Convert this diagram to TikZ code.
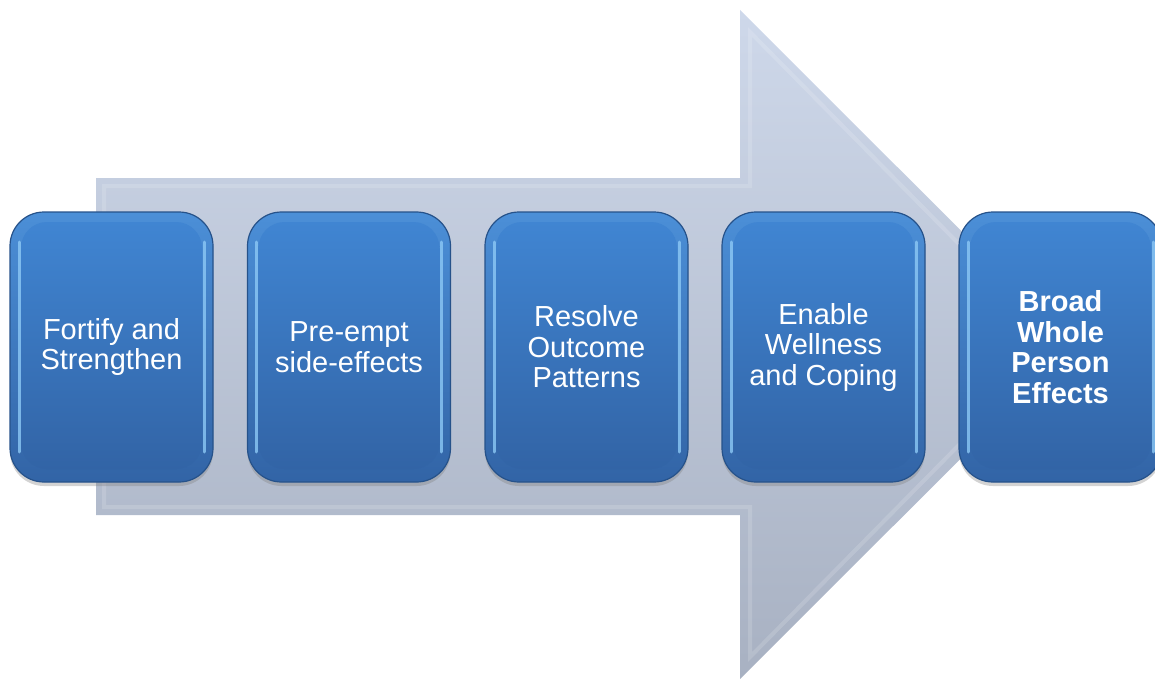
\documentclass[tikz,border=0pt]{standalone}
\usepackage{fontspec}
\setmainfont{Liberation Sans}
\usetikzlibrary{shadows}
\definecolor{arrtop}{RGB}{206,216,234}
\definecolor{arrbot}{RGB}{168,177,194}
\definecolor{boxtop}{RGB}{64,133,210}
\definecolor{boxbot}{RGB}{50,100,166}
\definecolor{boxedge}{RGB}{38,82,138}
\definecolor{boxhi}{RGB}{140,200,245}
\tikzset{
  stepbox/.style={
    draw=boxedge, line width=1.2pt,
    top color=boxtop!85!boxhi, bottom color=boxbot,
    rounded corners=34pt,
    minimum width=203pt, minimum height=270pt,
    inner sep=0pt, align=center, text=white,
    font=\fontsize{29}{30.5}\selectfont,
    drop shadow={opacity=0.35, shadow xshift=0pt, shadow yshift=-4pt},
    path picture={
      \draw[boxhi, opacity=0.8, line width=3pt, line cap=round]
        ([shift={(9pt,-30pt)}]path picture bounding box.north west) --
        ([shift={(9pt,30pt)}]path picture bounding box.south west);
      \draw[boxhi, opacity=0.8, line width=3pt, line cap=round]
        ([shift={(-9pt,-30pt)}]path picture bounding box.north east) --
        ([shift={(-9pt,30pt)}]path picture bounding box.south east);
      \shade[top color=boxtop, bottom color=boxbot, rounded corners=26pt]
        ([shift={(11pt,-10pt)}]path picture bounding box.north west) rectangle
        ([shift={(-11pt,13pt)}]path picture bounding box.south east);
    }
  },
  bigarrow/.style={top color=arrtop, bottom color=arrbot, draw=none}
}
\begin{document}
\begin{tikzpicture}[x=1pt,y=-1pt]
\useasboundingbox (0,0) rectangle (1155,679);
% big arrow
\path[bigarrow] (96,178) -- (740,178) -- (740,10) -- (1075,344.5) -- (740,679) -- (740,515) -- (96,515) -- cycle;
\path[draw=white, opacity=0.15, line width=4pt] (104,186) -- (750,186) -- (750,32) -- (1058,344.5) -- (750,657) -- (750,507) -- (104,507) -- cycle;
% boxes
\node[stepbox] (b1) at (111.5,347) {Fortify and\\Strengthen};
\node[stepbox] (b2) at (349,347) {Pre-empt\\side-effects};
\node[stepbox] (b3) at (586.5,347) {Resolve\\Outcome\\Patterns};
\node[stepbox] (b4) at (823.5,347) {Enable\\Wellness\\and Coping};
\node[stepbox, font=\fontsize{29}{30.5}\selectfont\bfseries] (b5) at (1060.5,347) {Broad\\Whole\\Person\\Effects};
\end{tikzpicture}
\end{document}
